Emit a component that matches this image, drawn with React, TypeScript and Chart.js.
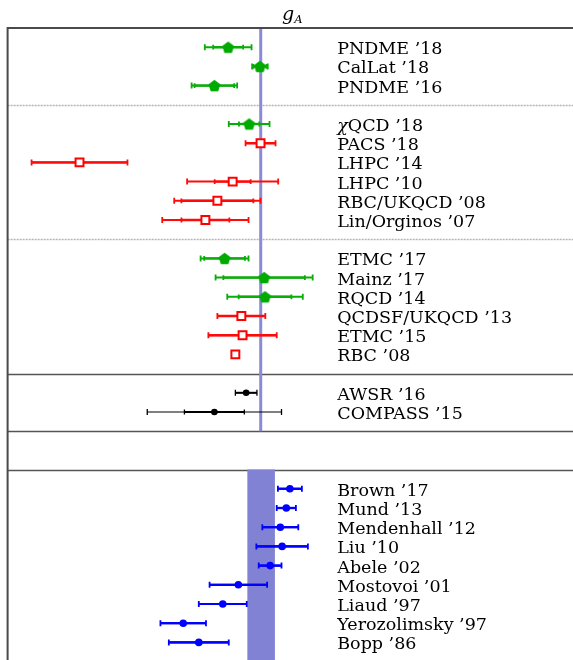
import React, { useEffect, useRef } from 'react';
import { Chart, registerables } from 'chart.js';

Chart.register(...registerables);

// ---- Lattice QCD results (green: pentagons, red: open squares) ----
const greenNames = ['PNDME ’18', 'CalLat ’18', 'PNDME ’16', 'χQCD ’18', 'ETMC ’17', 'Mainz ’17', 'RQCD ’14'];
const greenRows = [1, 2, 3, 5, 12, 13, 14];
const greenValues = [1.218, 1.271, 1.195, 1.253, 1.212, 1.278, 1.2795];
const greenStat = [0.025, 0.011, 0.033, 0.017, 0.034, 0.068, 0.044];
const greenTotal = [0.039, 0.013, 0.038, 0.034, 0.040, 0.081, 0.063];

const redNames = ['PACS ’18', 'LHPC ’14', 'LHPC ’10', 'RBC/UKQCD ’08', 'Lin/Orginos ’07', 'QCDSF/UKQCD ’13', 'ETMC ’15', 'RBC ’08'];
const redRows = [6, 7, 8, 9, 10, 15, 16, 17];
const redValues = [1.272, 0.970, 1.2255, 1.200, 1.180, 1.240, 1.242, 1.230];
const redStat = [0.025, 0.080, 0.030, 0.060, 0.040, 0.040, 0.057, 0];
const redTotal = [0.025, 0.080, 0.076, 0.072, 0.072, 0.040, 0.057, 0];

// ---- Phenomenology ----
const blackNames = ['AWSR ’16', 'COMPASS ’15'];
const blackRows = [19, 20];
const blackValues = [1.248, 1.195];
const blackStat = [0.018, 0.050];
const blackTotal = [0.018, 0.112];

// ---- Experiment (magnified axis) ----
const expNames = ['Brown ’17', 'Mund ’13', 'Mendenhall ’12', 'Liu ’10', 'Abele ’02', 'Mostovoi ’01', 'Liaud ’97', 'Yerozolimsky ’97', 'Bopp ’86'];
const expRows = [24, 25, 26, 27, 28, 29, 30, 31, 32];
const expValues = [1.2771, 1.2765, 1.2755, 1.2758, 1.2738, 1.2685, 1.2659, 1.2593, 1.2619];
const expErrors = [0.0020, 0.0016, 0.0030, 0.0043, 0.0019, 0.0048, 0.0040, 0.0038, 0.0050];

// ---- Reference value (PDG) ----
const referenceValue = 1.2723;
const referenceError = 0.0023;

// ---- Axes / layout rows ----
const latticeRange = [0.85, 1.80];
const expRange = [1.230, 1.325];
const rowCount = 33;
const dottedRows = [4, 11];
const solidRows = [18, 21, 23];
const referenceLineRows = [0, 21];
const bandRows = [23, 33];
const labelPosition = 1.40; // on lattice axis
const titleText = ['g', 'A'];

function makePentagon(color: string, R: number) {
  const size = Math.ceil(2 * R + 2);
  const c = document.createElement('canvas');
  c.width = size;
  c.height = size;
  const g = c.getContext('2d')!;
  g.fillStyle = color;
  g.beginPath();
  for (let k = 0; k < 5; k++) {
    const a = -Math.PI / 2 + (k * 2 * Math.PI) / 5;
    const px = size / 2 + R * Math.cos(a);
    const py = size / 2 + R * Math.sin(a) + 0.0955 * R;
    if (k === 0) g.moveTo(px, py);
    else g.lineTo(px, py);
  }
  g.closePath();
  g.fill();
  return c;
}

const pts = (vals: number[], rows: number[]) => vals.map((v, i) => ({ x: v, y: rows[i] }));

const LABEL_FONT = "17.5px 'DejaVu Serif', serif";
const LABEL_FONT_IT = "italic 17.5px 'DejaVu Serif', serif";

const errorBarPlugin = {
  id: 'errorBars',
  beforeDatasetDraw(chart: any, args: any) {
    const ds: any = chart.data.datasets[args.index];
    if (!ds.errTotal) return;
    const xs = chart.scales[ds.xAxisID || 'x'];
    const ys = chart.scales.y;
    const ctx = chart.ctx;
    ctx.save();
    ctx.strokeStyle = ds.errColor;
    ctx.lineCap = 'butt';
    ds.data.forEach((p: any, i: number) => {
      const tot = ds.errTotal[i];
      const st = ds.errStat[i];
      if (!tot) return;
      const y = ys.getPixelForValue(p.y);
      const x0 = xs.getPixelForValue(p.x - tot);
      const x1 = xs.getPixelForValue(p.x + tot);
      const s0 = xs.getPixelForValue(p.x - st);
      const s1 = xs.getPixelForValue(p.x + st);
      ctx.lineWidth = ds.errOuterWidth;
      ctx.beginPath();
      ctx.moveTo(x0, y);
      ctx.lineTo(x1, y);
      ctx.stroke();
      ctx.lineWidth = ds.errInnerWidth;
      ctx.beginPath();
      ctx.moveTo(s0, y);
      ctx.lineTo(s1, y);
      ctx.stroke();
      ctx.lineWidth = ds.capWidth;
      const h = ds.capHalf;
      ctx.beginPath();
      ctx.moveTo(x0, y - h);
      ctx.lineTo(x0, y + h);
      ctx.moveTo(x1, y - h);
      ctx.lineTo(x1, y + h);
      if (tot - st > 1e-6) {
        ctx.moveTo(s0, y - h * 0.8);
        ctx.lineTo(s0, y + h * 0.8);
        ctx.moveTo(s1, y - h * 0.8);
        ctx.lineTo(s1, y + h * 0.8);
      }
      ctx.stroke();
    });
    ctx.restore();
  },
};

const framePlugin = {
  id: 'frame',
  beforeDatasetsDraw(chart: any) {
    const { ctx, chartArea: a } = chart;
    const ys = chart.scales.y;
    ctx.save();
    ctx.strokeStyle = '#b4b4b4';
    ctx.lineWidth = 1.5;
    ctx.setLineDash([2, 1]);
    dottedRows.forEach((r) => {
      const y = Math.round(ys.getPixelForValue(r)) + 0.5;
      ctx.beginPath();
      ctx.moveTo(a.left, y);
      ctx.lineTo(a.right, y);
      ctx.stroke();
    });
    ctx.setLineDash([]);
    ctx.strokeStyle = '#555';
    ctx.lineWidth = 1.3;
    solidRows.forEach((r) => {
      const y = Math.round(ys.getPixelForValue(r)) + 0.5;
      ctx.beginPath();
      ctx.moveTo(a.left, y);
      ctx.lineTo(a.right, y);
      ctx.stroke();
    });
    ctx.restore();
  },
  afterDraw(chart: any) {
    const { ctx, chartArea: a } = chart;
    const ys = chart.scales.y;
    const xs = chart.scales.x;
    ctx.save();
    // border
    ctx.strokeStyle = '#4a4a4a';
    ctx.lineWidth = 2;
    ctx.beginPath();
    ctx.moveTo(a.left, a.bottom);
    ctx.lineTo(a.left, a.top);
    ctx.lineTo(a.right, a.top);
    ctx.stroke();
    // labels
    ctx.fillStyle = '#000';
    ctx.textBaseline = 'alphabetic';
    ctx.textAlign = 'left';
    const lx = xs.getPixelForValue(labelPosition);
    const groups: [string[], number[]][] = [
      [greenNames, greenRows],
      [redNames, redRows],
      [blackNames, blackRows],
      [expNames, expRows],
    ];
    groups.forEach(([names, rows]) => {
      names.forEach((n, i) => {
        const y = ys.getPixelForValue(rows[i]) + 7;
        if (n.startsWith('χ')) {
          ctx.font = LABEL_FONT_IT;
          ctx.fillText('χ', lx, y);
          const w = ctx.measureText('χ').width;
          ctx.font = LABEL_FONT;
          ctx.fillText(n.slice(1), lx + w, y);
        } else {
          ctx.font = LABEL_FONT;
          ctx.fillText(n, lx, y);
        }
      });
    });
    // title
    const cx = (a.left + a.right) / 2;
    const gFont = "italic 19px 'DejaVu Serif', serif";
    const aFont = "italic 11.5px 'DejaVu Serif', serif";
    ctx.font = gFont;
    const gw = ctx.measureText(titleText[0]).width;
    ctx.font = aFont;
    const aw = ctx.measureText(titleText[1]).width;
    const start = cx - (gw + aw) / 2;
    ctx.font = gFont;
    ctx.fillText(titleText[0], start, 19.5);
    ctx.font = aFont;
    ctx.fillText(titleText[1], start + gw, 22.5);
    ctx.restore();
  },
};

export default function App() {
  const ref = useRef<HTMLCanvasElement>(null);
  useEffect(() => {
    if (!ref.current) return;
    const pentagon = makePentagon('#00aa00', 6.3);
    const chart = new Chart(ref.current, {
      type: 'line',
      data: {
        datasets: [
          {
            label: 'lattice (green)',
            data: pts(greenValues, greenRows),
            xAxisID: 'x',
            showLine: false,
            pointStyle: pentagon as any,
            pointRadius: 6,
            errStat: greenStat,
            errTotal: greenTotal,
            errColor: '#0aac0a',
            errOuterWidth: 2,
            errInnerWidth: 2.4,
            capWidth: 1.8,
            capHalf: 3,
          } as any,
          {
            label: 'lattice (red)',
            data: pts(redValues, redRows),
            xAxisID: 'x',
            showLine: false,
            pointStyle: 'rect',
            pointRadius: 5.6,
            borderColor: '#ff0000',
            backgroundColor: '#ffffff',
            pointBorderWidth: 2,
            errStat: redStat,
            errTotal: redTotal,
            errColor: '#ff0a0a',
            errOuterWidth: 2,
            errInnerWidth: 2.4,
            capWidth: 1.8,
            capHalf: 3,
          } as any,
          {
            label: 'phenomenology',
            data: pts(blackValues, blackRows),
            xAxisID: 'x',
            showLine: false,
            pointStyle: 'circle',
            pointRadius: 3.3,
            borderColor: '#000',
            backgroundColor: '#000',
            pointBorderWidth: 0,
            errStat: blackStat,
            errTotal: blackTotal,
            errColor: '#000',
            errOuterWidth: 1,
            errInnerWidth: 2,
            capWidth: 1.3,
            capHalf: 3,
          } as any,
          {
            label: 'experiment',
            data: pts(expValues, expRows),
            xAxisID: 'x2',
            showLine: false,
            pointStyle: 'circle',
            pointRadius: 3.8,
            borderColor: '#0000ff',
            backgroundColor: '#0000ff',
            pointBorderWidth: 0,
            errStat: expErrors,
            errTotal: expErrors,
            errColor: '#0000ff',
            errOuterWidth: 2.2,
            errInnerWidth: 2.2,
            capWidth: 1.8,
            capHalf: 3,
          } as any,
          {
            label: 'reference line',
            data: referenceLineRows.map((r) => ({ x: referenceValue, y: r })),
            xAxisID: 'x',
            borderColor: '#8a8ad8',
            borderWidth: 3,
            pointRadius: 0,
            fill: false,
          },
          {
            label: 'reference band',
            data: [
              { x: referenceValue - referenceError, y: bandRows[0] },
              { x: referenceValue + referenceError, y: bandRows[0] },
              { x: referenceValue + referenceError, y: bandRows[1] },
              { x: referenceValue - referenceError, y: bandRows[1] },
              { x: referenceValue - referenceError, y: bandRows[0] },
            ],
            xAxisID: 'x2',
            borderWidth: 0,
            borderColor: 'rgba(0,0,0,0)',
            backgroundColor: '#8282d4',
            pointRadius: 0,
            fill: 'shape',
          } as any,
        ],
      },
      options: {
        responsive: false,
        devicePixelRatio: 1,
        animation: false,
        layout: { padding: { left: 7, top: 28, right: 13, bottom: 8.4 } },
        plugins: { legend: { display: false }, tooltip: { enabled: false } },
        scales: {
          x: { type: 'linear', min: latticeRange[0], max: latticeRange[1], display: false },
          x2: { type: 'linear', min: expRange[0], max: expRange[1], display: false },
          y: { type: 'linear', min: 0, max: rowCount, reverse: true, display: false },
        },
      },
      plugins: [errorBarPlugin, framePlugin],
    } as any);
    return () => chart.destroy();
  }, []);
  return (
    <div style={{ position: 'fixed', left: 0, top: 0, width: 573, height: 660, overflow: 'hidden', background: '#fff' }}>
      <canvas ref={ref} width={590} height={670} style={{ display: 'block', width: 590, height: 670 }} />
    </div>
  );
}
